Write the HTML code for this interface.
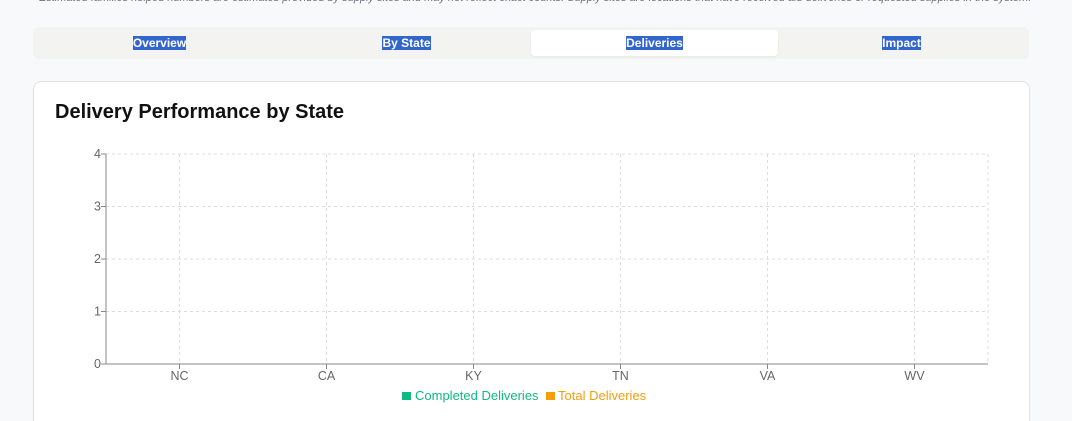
<!DOCTYPE html>
<html style="overflow:hidden;height:421px"><head><meta charset="utf-8"><style>
body{margin:0;width:1072px;height:421px;overflow:hidden;background:#f8f9fa;font-family:"Liberation Sans",sans-serif;position:relative}
.note{position:absolute;left:39px;top:-8px;font-size:11px;font-style:italic;color:#6b7280;white-space:nowrap}
.tabs{position:absolute;left:33px;top:27px;width:996px;height:32px;background:#f3f3f1;border-radius:6px}
.tab{position:absolute;top:3px;height:26px;width:247px;text-align:center;line-height:26px;font-size:12px;font-weight:bold;color:#fff;border-radius:4px}
.tab span{background:#3366cc;padding:0}
.tab.active{background:#fff;box-shadow:0 1px 2px rgba(0,0,0,.06)}
.card{position:absolute;left:33px;top:81px;width:995px;height:345px;background:#fff;border:1px solid #e2e2e2;border-radius:8px}
.title{position:absolute;left:21px;top:19px;font-size:20px;font-weight:bold;color:#111}
svg{position:absolute;left:0;top:0}
</style></head><body>
<div class="note">Estimated families helped numbers are estimates provided by supply sites and may not reflect exact counts. Supply sites are locations that have received aid deliveries or requested supplies in the system.</div>
<div class="tabs">
<div class="tab" style="left:3px"><span>Overview</span></div>
<div class="tab" style="left:250px"><span>By State</span></div>
<div class="tab active" style="left:498px"><span>Deliveries</span></div>
<div class="tab" style="left:745px"><span>Impact</span></div>
</div>
<div class="card">
<div class="title">Delivery Performance by State</div>
</div>
<svg id="chart" width="1072" height="421"></svg>
<script>
const categories=["NC","CA","KY","TN","VA","WV"];
const completedDeliveries=[0,0,0,0,0,0];
const totalDeliveries=[0,0,0,0,0,0];
const yTicks=[0,1,2,3,4];
const svg=document.getElementById('chart');
const NS='http://www.w3.org/2000/svg';
const X0=106,X1=988,Y0=364,Y1=154,YMAX=4;
const band=(X1-X0)/categories.length;
const xc=i=>X0+band*(i+0.5);
const y=v=>Y0-(v/YMAX)*(Y0-Y1);
function mk(t,a,p){const e=document.createElementNS(NS,t);for(const k in a)e.setAttribute(k,a[k]);(p||svg).appendChild(e);return e;}
yTicks.forEach(v=>{
 if(v>0){const g=mk('line',{x1:X0,x2:X1,y1:y(v),y2:y(v),stroke:'#ddd','stroke-dasharray':'3 3'});
 
 }
 const t=mk('line',{x1:X0-5,x2:X0,y1:y(v),y2:y(v),stroke:'#888'});
 
 
 const l=mk('text',{x:X0-5,y:y(v)+4,'text-anchor':'end','font-size':12.5,fill:'#666','font-family':'Liberation Sans, sans-serif'});l.textContent=v;
 
 
});
const rg=mk('line',{x1:X1,x2:X1,y1:Y1,y2:Y0,stroke:'#ddd','stroke-dasharray':'3 3'});


categories.forEach((c,i)=>{
 const g=mk('line',{x1:xc(i),x2:xc(i),y1:Y1,y2:Y0,stroke:'#ddd','stroke-dasharray':'3 3'});
 
 
 const bw=band*0.3;
 const b1=mk('rect',{x:xc(i)-bw-2,y:y(completedDeliveries[i]),width:bw,height:Y0-y(completedDeliveries[i]),fill:'#10b981'});
 
 
 const b2=mk('rect',{x:xc(i)+2,y:y(totalDeliveries[i]),width:bw,height:Y0-y(totalDeliveries[i]),fill:'#f59e0b'});
 
 
 const t=mk('line',{x1:xc(i),x2:xc(i),y1:Y0,y2:Y0+5,stroke:'#888'});
 
 
 const l=mk('text',{x:xc(i),y:Y0+16,'text-anchor':'middle','font-size':12.5,fill:'#666','font-family':'Liberation Sans, sans-serif'});l.textContent=c;
 
 
});
const ax=mk('line',{x1:X0,x2:X0,y1:Y1,y2:Y0,stroke:'#888'});


const axx=mk('line',{x1:X0,x2:X1,y1:Y0,y2:Y0,stroke:'#888'});


const s1=mk('rect',{x:402,y:392,width:9,height:8,fill:'#10b981'});


const t1=mk('text',{x:415,y:400,'font-size':13,fill:'#10b981','font-family':'Liberation Sans, sans-serif'});t1.textContent='Completed Deliveries';


const s2=mk('rect',{x:546,y:392,width:9,height:8,fill:'#f59e0b'});


const t2=mk('text',{x:558,y:400,'font-size':13,fill:'#f59e0b','font-family':'Liberation Sans, sans-serif'});t2.textContent='Total Deliveries';


</script>
</body></html>
